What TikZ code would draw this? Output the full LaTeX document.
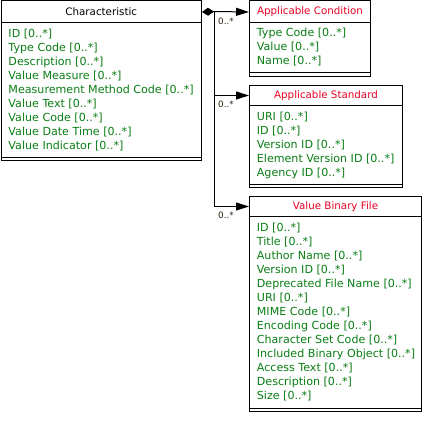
\documentclass[tikz,border=0pt]{standalone}
\usepackage{fontspec}
\setmainfont{DejaVu Sans}
\usetikzlibrary{arrows.meta}
\definecolor{fieldgreen}{RGB}{10,125,20}
\definecolor{titlered}{RGB}{235,0,35}
\definecolor{multcol}{RGB}{40,30,10}
\newcommand\mytitlefont{\fontsize{10.3}{12}\selectfont}
\newcommand\myfieldfont{\fontsize{11.1}{14}\selectfont}
\newcommand\mymultfont{\fontsize{8.8}{10}\selectfont}
\begin{document}
\begin{tikzpicture}[x=1pt,y=-1pt,
  box/.style={draw=black, line width=1pt, anchor=north west, inner sep=0pt},
  hdr/.style={draw=black, line width=1pt, anchor=north west, inner sep=0pt, font=\mytitlefont, text=titlered},
  flds/.style={anchor=north west, inner sep=0pt, align=left, font=\myfieldfont, text=fieldgreen},
  mult/.style={anchor=base west, inner sep=0pt, font=\mymultfont, text=multcol},
  conn/.style={draw=black, line width=1pt},
  sep/.style={draw=black, line width=1pt}]
\useasboundingbox (0,0) rectangle (423,425);

% Characteristic
\node[box, minimum width=200.5pt, minimum height=159.5pt] (char) at (0.5,0.5) {};
\node[hdr, minimum width=200.5pt, minimum height=22pt, text=black] (chart) at (0.5,0.5) {Characteristic};
\draw[sep] ([yshift=4pt]char.south west) -- ([yshift=4pt]char.south east);
\node[flds] (charf) at (8.3,29.1) {ID [0..*]\\Type Code [0..*]\\Description [0..*]\\Value Measure [0..*]\\Measurement Method Code [0..*]\\Value Text [0..*]\\Value Code [0..*]\\Value Date Time [0..*]\\Value Indicator [0..*]};

% Applicable Condition
\node[box, minimum width=121pt, minimum height=75.5pt] (cond) at (249,0.5) {};
\node[hdr, minimum width=121pt, minimum height=22pt] (condt) at (249,0.5) {Applicable Condition};
\draw[sep] ([yshift=4pt]cond.south west) -- ([yshift=4pt]cond.south east);
\node[flds] (condf) at (256.7,28.3) {Type Code [0..*]\\Value [0..*]\\Name [0..*]};

% Applicable Standard
\node[box, minimum width=153pt, minimum height=102pt] (std) at (249,85) {};
\node[hdr, minimum width=153pt, minimum height=20pt] (stdt) at (249,85) {Applicable Standard};
\draw[sep] ([yshift=4pt]std.south west) -- ([yshift=4pt]std.south east);
\node[flds] (stdf) at (256.7,112.1) {URI [0..*]\\ID [0..*]\\Version ID [0..*]\\Element Version ID [0..*]\\Agency ID [0..*]};

% Value Binary File
\node[box, minimum width=172pt, minimum height=215pt] (vbf) at (249,196) {};
\node[hdr, minimum width=172pt, minimum height=20pt] (vbft) at (249,196) {Value Binary File};
\draw[sep] ([yshift=4pt]vbf.south west) -- ([yshift=4pt]vbf.south east);
\node[flds] (vbff) at (256.7,223.3) {ID [0..*]\\Title [0..*]\\Author Name [0..*]\\Version ID [0..*]\\Deprecated File Name [0..*]\\URI [0..*]\\MIME Code [0..*]\\Encoding Code [0..*]\\Character Set Code [0..*]\\Included Binary Object [0..*]\\Access Text [0..*]\\Description [0..*]\\Size [0..*]};

% Connectors
\coordinate (j) at (214,11.5);
\draw[conn, {Diamond[length=12pt,width=8pt]}-] (chart.east) -- (j);
\draw[conn, -{Triangle[length=13pt,width=8pt]}] (j) -- (condt.west);
\draw[conn, -{Triangle[length=13pt,width=8pt]}] (j) |- (vbft.west);
\draw[conn, -{Triangle[length=13pt,width=8pt]}] (j |- stdt.west) -- (stdt.west);

\node[mult] (m1) at (218,24.3) {0..*};
\node[mult] (m2) at (218,107.8) {0..*};
\node[mult] (m3) at (218,218.8) {0..*};
\end{tikzpicture}
\end{document}
